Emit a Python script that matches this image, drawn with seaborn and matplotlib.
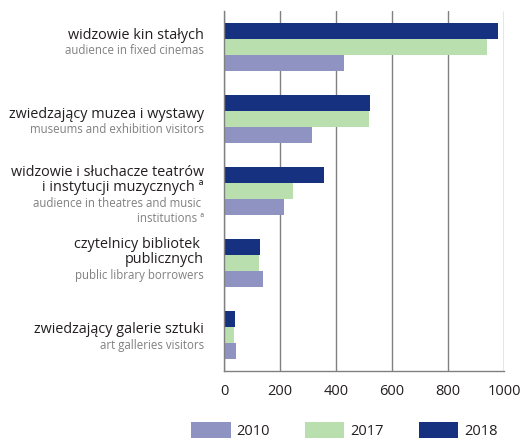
import numpy as np
import pandas as pd
import matplotlib
matplotlib.use("Agg")
import matplotlib.pyplot as plt
import matplotlib.transforms as mtransforms
from matplotlib.patches import Patch
import seaborn as sns

# Data (thousands)
categories = ["cinemas", "museums", "theatres", "libraries", "galleries"]
labels_pl = [
    "widzowie kin stałych",
    "zwiedzający muzea i wystawy",
    "widzowie i słuchacze teatrów\ni instytucji muzycznych ª",
    "czytelnicy bibliotek \npublicznych",
    "zwiedzający galerie sztuki",
]
labels_en = [
    "audience in fixed cinemas",
    "museums and exhibition visitors",
    "audience in theatres and music \ninstitutions ª",
    "public library borrowers",
    "art galleries visitors",
]
values_2010 = [429, 313, 213, 138, 43]
values_2017 = [939, 519, 246, 126, 36]
values_2018 = [979, 521, 357, 128, 39]
years = ["2010", "2017", "2018"]
x_ticks = [0, 200, 400, 600, 800, 1000]

colors = {"2010": "#8f93c1", "2017": "#badfae", "2018": "#16317f"}
dark = "#231f20"
grey = "#808080"

df = pd.DataFrame({
    "category": categories * 3,
    "year": ["2010"] * 5 + ["2017"] * 5 + ["2018"] * 5,
    "value": values_2010 + values_2017 + values_2018,
})

sns.set_style("white")
plt.rcParams["font.family"] = ["Open Sans", "DejaVu Sans"]

fig = plt.figure(figsize=(5.2, 4.44), dpi=100)
ax = fig.add_axes([224 / 520, 1 - 371 / 444, 280 / 520, 360 / 444])

sns.barplot(data=df, x="value", y="category", hue="year",
            order=categories, hue_order=["2018", "2017", "2010"],
            palette=colors, orient="h", width=0.667, ax=ax,
            legend=False, saturation=1, edgecolor="none")

ax.set_xlim(0, 1000)
ax.set_ylim(len(categories) - 0.5, -0.5)
ax.set_xticks(x_ticks)
ax.set_xticklabels([str(t) for t in x_ticks], fontsize=10.5, color=dark)
ax.set_xlabel("")
ax.set_ylabel("")
ax.set_yticks(np.arange(-0.5, len(categories)))
ax.set_yticklabels([])
ax.grid(axis="x", color=grey, linewidth=1)
ax.set_axisbelow(True)
for side in ["top", "right"]:
    ax.spines[side].set_visible(False)
for side in ["left", "bottom"]:
    ax.spines[side].set_color(grey)
    ax.spines[side].set_linewidth(1)
ax.tick_params(axis="both", length=4, width=1, color=grey, direction="out")
ax.tick_params(axis="x", pad=5)

# two-language category labels, split point nudged per row as in the original
trans = mtransforms.blended_transform_factory(fig.transFigure, ax.transData)
x_text = 204 / 520
label_shift = [-0.06, 0.04, 0.06, 0.06, 0.03]
for i, (pl, en) in enumerate(zip(labels_pl, labels_en)):
    split = i + label_shift[i]
    ax.text(x_text, split, pl, transform=trans, ha="right", va="bottom",
            fontsize=10.4, color=dark, linespacing=1.0, multialignment="right")
    ax.text(x_text, split + 0.02, en, transform=trans, ha="right", va="top",
            fontsize=8.3, color=grey, linespacing=1.25, multialignment="right")

handles = [Patch(facecolor=colors[y], edgecolor="none", label=y) for y in years]
fig.legend(handles=handles, loc="lower center", bbox_to_anchor=(0.662, -0.018),
           ncol=3, frameon=False, fontsize=10.5, handlelength=2.7,
           handleheight=1.4, columnspacing=2.4, handletextpad=0.4,
           labelcolor=dark)

fig.savefig("out.png", dpi=100)
